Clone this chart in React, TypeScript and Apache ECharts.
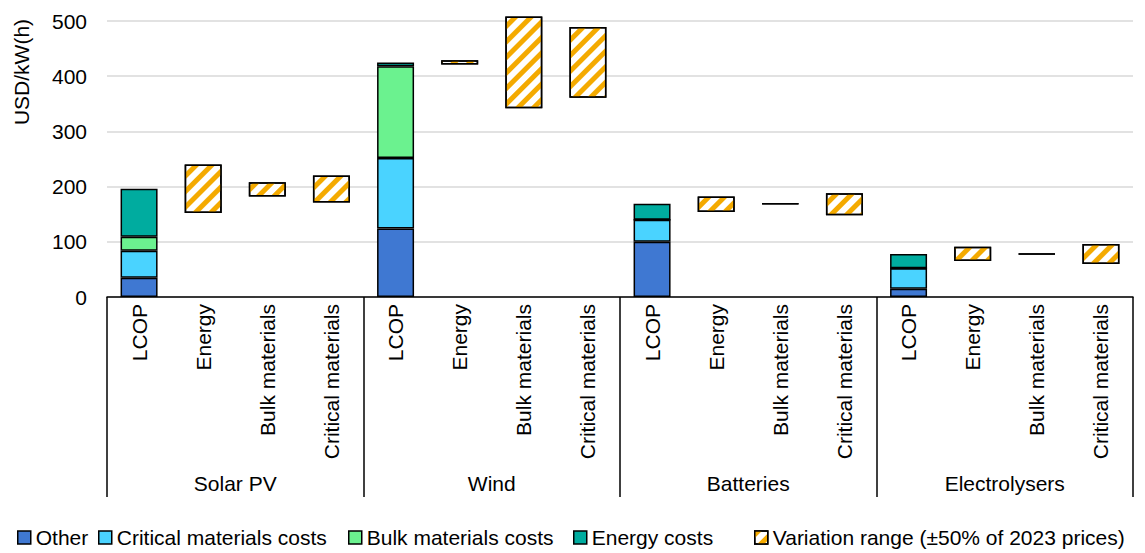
import React, { useEffect, useRef } from 'react';
import * as echarts from 'echarts';

const groups = ['Solar PV', 'Wind', 'Batteries', 'Electrolysers'];
const subCategories = ['LCOP', 'Energy', 'Bulk materials', 'Critical materials'];
const categories = groups.flatMap((g) => subCategories.map((s) => `${g}|${s}`));

// LCOP stacked components (only LCOP slots carry values)
const otherCosts = [35, null, null, null, 124, null, null, null, 100, null, null, null, 15, null, null, null];
const criticalCosts = [49, null, null, null, 128, null, null, null, 40, null, null, null, 37, null, null, null];
const bulkCosts = [25, null, null, null, 166, null, null, null, 0, null, null, null, 0, null, null, null];
const energyCosts = [87, null, null, null, 7, null, null, null, 29, null, null, null, 26, null, null, null];

// Variation ranges (low / high)
const rangeLow = [null, 152, 182, 171, null, 421, 342, 361, null, 154, 168.5, 148, null, 65, 77.5, 60];
const rangeHigh = [null, 240, 208, 220, null, 429, 508, 489, null, 182, 169.5, 188, null, 91, 78.5, 96];

const yTicks = [0, 100, 200, 300, 400, 500];

const legendNames = [
  'Other',
  'Critical materials costs',
  'Bulk materials costs',
  'Energy costs',
  'Variation range (±50% of 2023 prices)',
];

const FONT = 'Liberation Sans, Arial, sans-serif';
const TEXT = '#000';

export default function App() {
  const ref = useRef<HTMLDivElement>(null);
  useEffect(() => {
    document.body.style.margin = '0';
    if (!ref.current) return;
    const chart = echarts.init(ref.current, null, { renderer: 'svg' });
    const border = { borderColor: '#000', borderWidth: 1.5 };
    const span = rangeHigh.map((h, i) => (h == null || rangeLow[i] == null ? null : +(h - (rangeLow[i] as number)).toFixed(2)));
    const legendLefts = [17, 98, 348, 573, 754];
    const option: any = {
      animation: false,
      textStyle: { fontFamily: FONT, color: TEXT },
      grid: { left: 107, right: 12, top: 21, bottom: 256 },
      legend: legendNames.map((name, i) => ({
        data: [name],
        left: legendLefts[i],
        top: 527,
        itemWidth: 13,
        itemHeight: 13,
        icon: 'rect',
        padding: 0,
        itemStyle: { borderColor: '#000', borderWidth: 1.5 },
        textStyle: { fontSize: 21, color: TEXT, fontFamily: FONT },
      })),
      graphic: [
        {
          type: 'text',
          x: 21,
          y: 72,
          rotation: Math.PI / 2,
          style: {
            text: 'USD/kW(h)',
            fontSize: 21,
            fontFamily: FONT,
            fill: TEXT,
            align: 'center',
            verticalAlign: 'middle',
          },
        },
      ],
      xAxis: [
        {
          type: 'category',
          data: categories,
          axisLine: { show: true, lineStyle: { color: '#000', width: 1.5 } },
          axisTick: { show: false },
          axisLabel: {
            interval: 0,
            rotate: 90,
            margin: 7,
            fontSize: 21,
            color: TEXT,
            fontFamily: FONT,
            formatter: (v: string) => v.split('|')[1],
          },
        },
        {
          type: 'category',
          data: groups,
          position: 'bottom',
          offset: 0,
          axisLine: { show: false },
          axisTick: { show: true, interval: 0, length: 200, lineStyle: { color: '#000', width: 1.5 } },
          axisLabel: { interval: 0, margin: 176, fontSize: 21, color: TEXT, fontFamily: FONT },
        },
      ],
      yAxis: {
        type: 'value',
        min: yTicks[0],
        max: yTicks[yTicks.length - 1],
        interval: 100,
        axisLine: { show: false },
        axisTick: { show: false },
        axisLabel: { fontSize: 21, color: TEXT, fontFamily: FONT, margin: 20 },
        splitLine: { lineStyle: { color: '#d9d9d9', width: 1.5 } },
      },
      series: [
        { name: 'Other', type: 'bar', stack: 'cost', data: otherCosts, barWidth: 37, clip: false, itemStyle: { color: '#3F78D2', ...border } },
        { name: 'Critical materials costs', type: 'bar', stack: 'cost', data: criticalCosts, barWidth: 37, clip: false, itemStyle: { color: '#4AD3FF', ...border } },
        { name: 'Bulk materials costs', type: 'bar', stack: 'cost', data: bulkCosts, barWidth: 37, clip: false, itemStyle: { color: '#6BF28F', ...border } },
        { name: 'Energy costs', type: 'bar', stack: 'cost', data: energyCosts, barWidth: 37, clip: false, itemStyle: { color: '#00AC9F', ...border } },
        {
          name: 'rangeBase',
          type: 'bar',
          stack: 'range',
          data: rangeLow,
          barWidth: 37,
          barGap: '-100%',
          clip: false,
          silent: true,
          itemStyle: { color: 'transparent', borderWidth: 0 },
        },
        {
          name: 'Variation range (±50% of 2023 prices)',
          type: 'bar',
          stack: 'range',
          data: span,
          barWidth: 37,
          barGap: '-100%',
          clip: false,
          itemStyle: {
            color: '#ffffff',
            ...border,
            decal: {
              color: '#F4AA00',
              symbol: 'rect',
              symbolSize: 1,
              dashArrayX: [1, 0],
              dashArrayY: [4.5, 6],
              rotation: -Math.PI / 4,
            },
          },
        },
      ],
    };
    chart.setOption(option);
    return () => chart.dispose();
  }, []);
  return <div ref={ref} style={{ width: 1145, height: 553 }} />;
}
